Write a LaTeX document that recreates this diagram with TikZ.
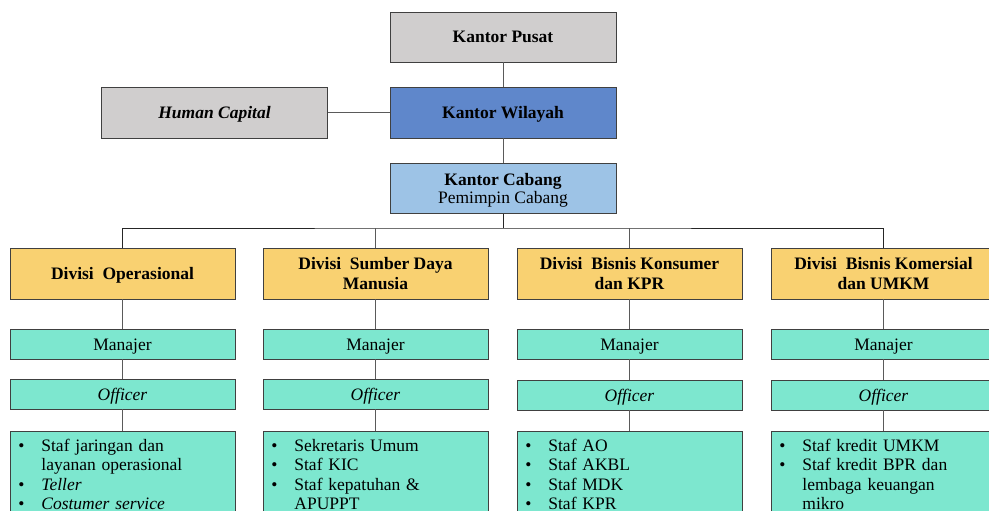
\documentclass[tikz,border=0pt]{standalone}
\usepackage{fontspec}
\setmainfont{Liberation Serif}
\definecolor{grayfill}{HTML}{D0CECE}
\definecolor{wilfill}{HTML}{5F87CB}
\definecolor{cabfill}{HTML}{9DC3E6}
\definecolor{divfill}{HTML}{F9D171}
\definecolor{tealfill}{HTML}{7DE7CF}
\definecolor{bordc}{HTML}{404040}
\definecolor{linec}{HTML}{5A5A5A}
\newcommand{\bitem}[1]{\hangindent=23pt\hangafter=1\noindent\strut\makebox[23pt][l]{\textbullet}#1\par}
\tikzset{
  box/.style={draw=bordc, line width=0.8pt, inner sep=0pt, align=center,
    font=\fontsize{17.5}{19.5}\selectfont, text depth=0pt},
  oneline/.style={text height=12pt, text depth=0pt},
  topbox/.style={box, minimum width=226pt, minimum height=50pt},
  divbox/.style={box, fill=divfill, minimum width=225pt, minimum height=51pt, font=\fontsize{17.5}{20}\selectfont\bfseries},
  rolebox/.style={box, oneline, fill=tealfill, minimum width=225pt, minimum height=30pt},
  staffbox/.style={draw=bordc, line width=0.8pt, fill=tealfill, anchor=north west,
    text width=209pt, inner xsep=8pt, inner ysep=6pt, align=left,
    font=\fontsize{17.5}{19.5}\selectfont},
  conn/.style={draw=linec, line width=0.8pt}
}
\begin{document}
\begin{tikzpicture}[x=1pt,y=-1pt]
\useasboundingbox (0,0) rectangle (989,511);
\clip (0,0) rectangle (989,511);
\fill[white] (0,0) rectangle (989,511);

\node[topbox, oneline, fill=grayfill, font=\fontsize{17.5}{19.5}\selectfont\bfseries] (pusat) at (503,37) {Kantor Pusat};
\node[topbox, oneline, fill=wilfill, minimum height=51pt, font=\fontsize{17.5}{19.5}\selectfont\bfseries] (wil) at (503,112.5) {Kantor Wilayah};
\node[topbox, oneline, fill=grayfill, minimum height=51pt, font=\fontsize{17.5}{19.5}\selectfont\bfseries\itshape] (hc) at (214.5,112.5) {Human Capital};
\node[topbox, fill=cabfill] (cab) at (503,188.5) {\textbf{Kantor Cabang}\\[-1pt]Pemimpin Cabang};

\node[divbox, oneline] (d1) at (122.5,273.5) {Divisi\ \ Operasional};
\node[divbox] (d2) at (375.5,273.5) {Divisi\ \ Sumber Daya\\Manusia};
\node[divbox] (d3) at (629.5,273.5) {Divisi\ \ Bisnis\ Konsumer\\dan KPR};
\node[divbox] (d4) at (883.5,273.5) {Divisi\ \ Bisnis\ Komersial\\dan UMKM};

\node[rolebox] (m1) at (122.5,344) {Manajer};
\node[rolebox] (m2) at (375.5,344) {Manajer};
\node[rolebox] (m3) at (629.5,344) {Manajer};
\node[rolebox] (m4) at (883.5,344) {Manajer};

\node[rolebox] (o1) at (122.5,394) {\textit{Officer}};
\node[rolebox] (o2) at (375.5,394) {\textit{Officer}};
\node[rolebox] (o3) at (629.5,395) {\textit{Officer}};
\node[rolebox] (o4) at (883.5,395) {\textit{Officer}};

\node[staffbox] (s1) at (10,431) {\bitem{Staf jaringan dan\newline layanan operasional}\bitem{\textit{Teller}}\bitem{\textit{Costumer service}}\vskip 30pt};
\node[staffbox] (s2) at (263,431) {\bitem{Sekretaris Umum}\bitem{Staf KIC}\bitem{Staf kepatuhan \&\newline APUPPT}\vskip 30pt};
\node[staffbox] (s3) at (517,431) {\bitem{Staf AO}\bitem{Staf AKBL}\bitem{Staf MDK}\bitem{Staf KPR}\vskip 30pt};
\node[staffbox] (s4) at (771,431) {\bitem{Staf kredit UMKM}\bitem{Staf kredit BPR dan\newline lembaga keuangan\newline mikro}\vskip 30pt};

\coordinate (bus) at (503,228);
\draw[conn] (pusat) -- (wil);
\draw[conn] (hc) -- (wil);
\draw[conn] (wil) -- (cab);
\draw[conn, draw=black!85] (cab.south) -- (bus);
\draw[conn, draw=black!85] (d1.north) |- (bus) -| (d4.north);
\draw[conn] (d2.north) -- (d2.north |- bus);
\draw[conn] (d3.north) -- (d3.north |- bus);
\foreach \i in {1,2,3,4}{
  \draw[conn] (d\i) -- (m\i);
  \draw[conn] (m\i) -- (o\i);
  \draw[conn] (o\i) -- (s\i.north -| o\i);
}
\end{tikzpicture}
\end{document}
